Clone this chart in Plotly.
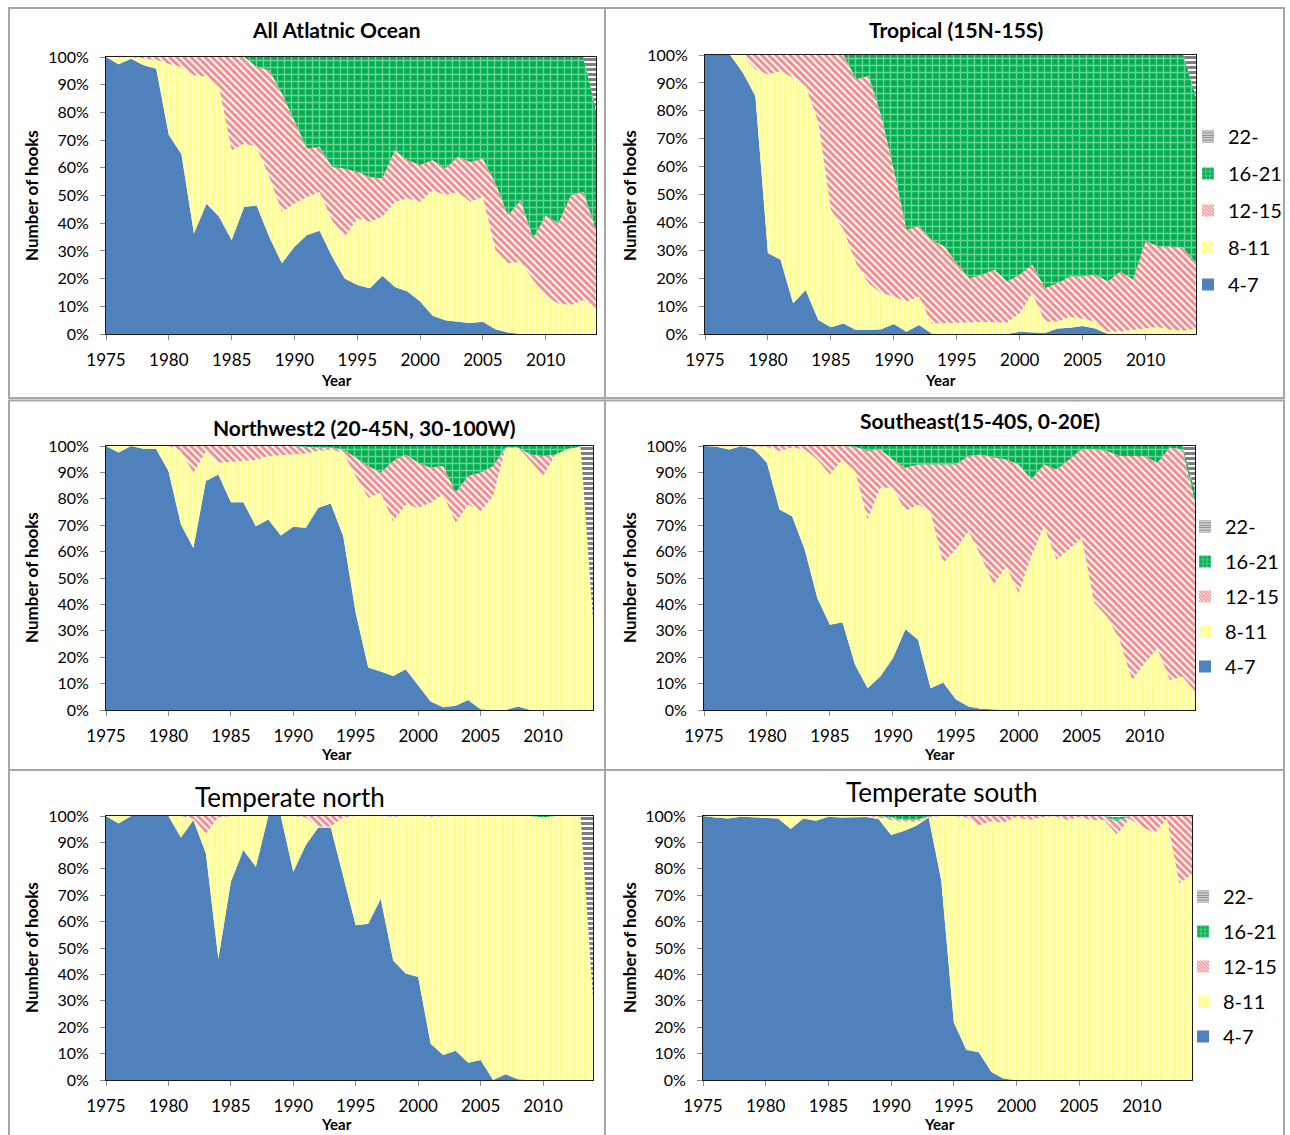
import plotly.graph_objects as go

W, H = 1290, 1135
FONT = "Lato, 'Liberation Sans', Arial, sans-serif"

YEARS = list(range(1975, 2015))
TICK_YEARS = [1975, 1980, 1985, 1990, 1995, 2000, 2005, 2010]
HOOK_CLASSES = ["4-7", "8-11", "12-15", "16-21", "22-"]

# ---- All Atlantic Ocean: share of sets (%) by number of hooks between floats
ALL_4_7 = [100, 97.4, 99.4, 97, 95.8, 71.8, 65, 36.3, 47, 42.3,
           33.9, 45.9, 46.3, 35, 25.5, 31.5, 35.7, 37.3, 27.9, 20,
           17.7, 16.5, 21, 17, 15.3, 11.7, 6.6, 5, 4.4, 4,
           4.4, 1.7, 0.5, 0, 0, 0, 0, 0, 0, 0]
ALL_8_11 = [0, 2.6, 0.6, 2.5, 3.2, 25.7, 31.4, 57.1, 46, 46.9,
            32.4, 22.9, 21.2, 21.7, 18.6, 15.6, 13.8, 14, 13.1, 15,
            24, 24, 21.3, 30.7, 33.6, 36, 45.3, 45.1, 46.9, 43.7,
            45.1, 28.6, 25, 26, 19.5, 13.5, 11, 10.5, 12.3, 9.3]
ALL_12_15 = [0, 0, 0, 0.5, 1, 2.5, 3.6, 6.6, 7, 10.8,
             33.7, 31.2, 28.9, 38.5, 42.7, 30.1, 17.5, 16.2, 19.3, 24.7,
             16.8, 16.2, 13.8, 18.6, 13.8, 13.3, 10.8, 9.6, 12.6, 14.4,
             13.8, 24, 17.4, 22.3, 15, 29.4, 28.9, 39.6, 39, 28.2]
ALL_16_21 = [0, 0, 0, 0, 0, 0, 0, 0, 0, 0,
             0, 0, 3.6, 4.8, 13.2, 22.8, 33, 32.5, 39.7, 40.3,
             41.5, 43.3, 43.9, 33.7, 37.3, 39, 37.3, 40.3, 36.1, 37.9,
             36.7, 45.7, 57.1, 51.7, 65.5, 57.1, 60.1, 49.9, 48.7, 43.5]
ALL_22 = [0, 0, 0, 0, 0, 0, 0, 0, 0, 0,
          0, 0, 0, 0, 0, 0, 0, 0, 0, 0,
          0, 0, 0, 0, 0, 0, 0, 0, 0, 0,
          0, 0, 0, 0, 0, 0, 0, 0, 0, 19]

# ---- Tropical (15N-15S)
TRO_4_7 = [100, 100, 100, 93.7, 85.3, 29, 26.6, 11, 15.8, 5,
           2.4, 3.8, 1.4, 1.4, 1.7, 3.6, 0.8, 3.2, 0.2, 0,
           0, 0, 0, 0, 0, 0.8, 0.5, 0.4, 2, 2.2,
           2.9, 2, 0, 0, 0, 0, 0, 0, 0, 0]
TRO_8_11 = [0, 0, 0, 6.3, 9.6, 64, 67.7, 80.9, 73.1, 70.7,
            42.2, 33.6, 24, 16.8, 12.9, 9.8, 10.8, 10.2, 3.6, 4,
            4, 4.1, 4.3, 4.2, 4.1, 6.6, 14.1, 4, 2.5, 4,
            2.6, 2.4, 0.8, 1, 1.5, 2.2, 2.5, 1.5, 1.2, 2]
TRO_12_15 = [0, 0, 0, 0, 5.1, 7, 5.7, 8.1, 11.1, 24.3,
             55.4, 62.6, 65.9, 74.3, 63.5, 45.5, 25.8, 25.2, 30, 27.4,
             21.4, 15.9, 16.9, 18.8, 14.7, 13.8, 10.2, 12, 13.7, 14.4,
             15.1, 16.8, 18, 21.4, 17.9, 31, 28.9, 29.9, 29.6, 23.4]
TRO_16_21 = [0, 0, 0, 0, 0, 0, 0, 0, 0, 0,
             0, 0, 8.7, 7.5, 21.9, 41.1, 62.6, 61.4, 66.2, 68.6,
             74.6, 80, 78.8, 77, 81.2, 78.8, 75.2, 83.6, 81.8, 79.4,
             79.4, 78.8, 81.2, 77.6, 80.6, 66.8, 68.6, 68.6, 69.2, 59.6]
TRO_22 = [0, 0, 0, 0, 0, 0, 0, 0, 0, 0,
          0, 0, 0, 0, 0, 0, 0, 0, 0, 0,
          0, 0, 0, 0, 0, 0, 0, 0, 0, 0,
          0, 0, 0, 0, 0, 0, 0, 0, 0, 15]

# ---- Northwest2 (20-45N, 30-100W)
NW_4_7 = [100, 97.5, 100, 99, 99, 90.5, 70.3, 61.4, 86.7, 89.2,
          78.7, 78.7, 69.6, 72.2, 66.1, 69.4, 69, 76.6, 78.2, 65.8,
          36.7, 16.1, 14.6, 12.9, 15.4, 9.5, 3.2, 1, 1.6, 3.8,
          0.3, 0, 0, 1.3, 0, 0, 0, 0, 0, 0]
NW_8_11 = [0, 2.5, 0, 1, 1, 9.5, 27.8, 28.5, 11.4, 4.5,
           15.2, 15.6, 25.1, 24, 30.4, 27.6, 28.2, 21.5, 20.5, 31.7,
           51.9, 64.3, 67.7, 58.6, 62.4, 67.1, 75.3, 80.6, 69.3, 74,
           75, 81, 99.4, 98.1, 94.3, 88.6, 96.8, 99, 99.7, 34.2]
NW_12_15 = [0, 0, 0, 0, 0, 0, 1.9, 10.1, 1.9, 6.3,
            6.1, 5.7, 5.3, 3.8, 3.5, 3, 2.5, 1.3, 0.7, 1.2,
            7, 12, 7.6, 22.8, 19, 17.1, 13.3, 10.8, 11.4, 10.8,
            14.6, 11.4, 0, 0, 2.5, 7.6, 0, 0, 0, 0]
NW_16_21 = [0, 0, 0, 0, 0, 0, 0, 0, 0, 0,
            0, 0, 0, 0, 0, 0, 0.3, 0.6, 0.6, 1.3,
            4.4, 7.6, 10.1, 5.7, 3.2, 6.3, 8.2, 7.6, 17.7, 11.4,
            10.1, 7.6, 0.6, 0.6, 3.2, 3.8, 3.2, 1, 0.3, 0]
NW_22 = [0, 0, 0, 0, 0, 0, 0, 0, 0, 0,
         0, 0, 0, 0, 0, 0, 0, 0, 0, 0,
         0, 0, 0, 0, 0, 0, 0, 0, 0, 0,
         0, 0, 0, 0, 0, 0, 0, 0, 0, 65.8]

# ---- Southeast (15-40S, 0-20E)
SE_4_7 = [100, 99.7, 98.7, 100, 98.7, 93.7, 75.9, 73.4, 60.8, 42.4,
          32.3, 33.2, 17.1, 8.2, 12.7, 19.6, 30.6, 26.6, 8.2, 10.4,
          4.1, 1.3, 0.5, 0.2, 0, 0, 0, 0, 0, 0,
          0, 0, 0, 0, 0, 0, 0, 0, 0, 0]
SE_8_11 = [0, 0.3, 1.3, 0, 1.1, 6, 22.2, 26, 37.9, 52.5,
           56.9, 61.7, 73.4, 64, 71.5, 64.6, 44.7, 51.2, 66.5, 45.3,
           56.7, 66.4, 57.7, 47.3, 54.4, 44.3, 58.2, 69.6, 57, 60.8,
           65.2, 40.5, 35.4, 26.6, 11.4, 17.7, 23.4, 11.4, 12.7, 7]
SE_12_15 = [0, 0, 0, 0, 0.2, 0.3, 1.9, 0.6, 1.3, 5.1,
            10.8, 5.1, 9.2, 25.9, 14.5, 10.7, 16.5, 15.2, 18.3, 37.3,
            32.2, 28.5, 38.6, 48.1, 40.5, 48.7, 29.1, 23.4, 34.1, 34.1,
            33.5, 58.2, 62.7, 69.6, 84.8, 78.5, 70.3, 88, 86, 72]
SE_16_21 = [0, 0, 0, 0, 0, 0, 0, 0, 0, 0,
            0, 0, 0.3, 1.9, 1.3, 5.1, 8.2, 7, 7, 7,
            7, 3.8, 3.2, 4.4, 5.1, 7, 12.7, 7, 8.9, 5.1,
            1.3, 1.3, 1.9, 3.8, 3.8, 3.8, 6.3, 0.6, 1.3, 4]
SE_22 = [0, 0, 0, 0, 0, 0, 0, 0, 0, 0,
         0, 0, 0, 0, 0, 0, 0, 0, 0, 0,
         0, 0, 0, 0, 0, 0, 0, 0, 0, 0,
         0, 0, 0, 0, 0, 0, 0, 0, 0, 17]

# ---- Temperate north
TN_4_7 = [100, 97.2, 100, 100, 100, 100, 91.9, 98.5, 85.8, 45.9,
          75.1, 87.1, 80.8, 100, 100, 78.9, 89, 95.6, 95.6, 77.6,
          58.6, 59.2, 68.7, 45.3, 40.3, 39, 13.7, 9.5, 11.1, 6.5,
          7.6, 0, 2.2, 0.3, 0, 0, 0, 0, 0, 0]
TN_8_11 = [0, 2.8, 0, 0, 0, 0, 8.1, 0.5, 7.6, 53.6,
           24.9, 12.9, 19.2, 0, 0, 21.1, 10.5, 0.4, 0.4, 21.9,
           41.4, 40.8, 31.3, 54.4, 59.7, 61, 86, 90.5, 88.9, 93.5,
           92.4, 100, 97.8, 99.7, 100, 99.5, 100, 100, 100, 31]
TN_12_15 = [0, 0, 0, 0, 0, 0, 0, 1, 6.6, 0.5,
            0, 0, 0, 0, 0, 0, 0.5, 4, 4, 0.5,
            0, 0, 0, 0.3, 0, 0, 0.3, 0, 0, 0,
            0, 0, 0, 0, 0, 0, 0, 0, 0, 0]
TN_16_21 = [0, 0, 0, 0, 0, 0, 0, 0, 0, 0,
            0, 0, 0, 0, 0, 0, 0, 0, 0, 0,
            0, 0, 0, 0, 0, 0, 0, 0, 0, 0,
            0, 0, 0, 0, 0, 0.5, 0, 0, 0, 0]
TN_22 = [0, 0, 0, 0, 0, 0, 0, 0, 0, 0,
         0, 0, 0, 0, 0, 0, 0, 0, 0, 0,
         0, 0, 0, 0, 0, 0, 0, 0, 0, 0,
         0, 0, 0, 0, 0, 0, 0, 0, 0, 69]

# ---- Temperate south
TS_4_7 = [100, 99.4, 99.1, 99.7, 99.5, 99.4, 99.1, 95.1, 99.1, 98.2,
          99.7, 99.4, 99.6, 99.6, 98.9, 92.8, 94.3, 96.3, 99.4, 75.7,
          21.9, 11.5, 10.5, 3, 0.5, 0, 0, 0, 0, 0,
          0, 0, 0, 0, 0, 0, 0, 0, 0, 0]
TS_8_11 = [0, 0.6, 0.9, 0.3, 0.5, 0.6, 0.9, 4.9, 0.9, 1.8,
           0.3, 0.6, 0.4, 0.4, 0.6, 5.7, 3.7, 1.5, 0.1, 24.3,
           78.1, 88, 86, 95, 97, 99.5, 98.5, 99.5, 100, 98.5,
           99.5, 98.5, 98.5, 93, 99, 96, 93.5, 99, 74.5, 78]
TS_12_15 = [0, 0, 0, 0, 0, 0, 0, 0, 0, 0,
            0, 0, 0, 0, 0.5, 1, 0.5, 0.7, 0.5, 0,
            0, 0.5, 3.5, 2, 2.5, 0.5, 1.5, 0.5, 0, 1.5,
            0.5, 1.5, 1.5, 5, 1, 4, 6.5, 1, 25.5, 22]
TS_16_21 = [0, 0, 0, 0, 0, 0, 0, 0, 0, 0,
            0, 0, 0, 0, 0, 0.5, 1.5, 1.5, 0, 0,
            0, 0, 0, 0, 0, 0, 0, 0, 0, 0,
            0, 0, 0, 1.5, 0, 0, 0, 0, 0, 0]
TS_22 = [0, 0, 0, 0, 0, 0, 0, 0, 0, 0,
         0, 0, 0, 0, 0, 0, 0, 0, 0, 0,
         0, 0, 0, 0, 0, 0, 0, 0, 0, 0,
         0, 0, 0, 0.5, 0, 0, 0, 0, 0, 0]

PANEL_TITLES = ["<b>All Atlatnic Ocean</b>", "<b>Tropical (15N-15S)</b>",
                "<b>Northwest2 (20-45N, 30-100W)</b>", "<b>Southeast(15-40S, 0-20E)</b>",
                "Temperate north", "Temperate south"]

PANEL_DATA = [
    [ALL_4_7, ALL_8_11, ALL_12_15, ALL_16_21, ALL_22],
    [TRO_4_7, TRO_8_11, TRO_12_15, TRO_16_21, TRO_22],
    [NW_4_7, NW_8_11, NW_12_15, NW_16_21, NW_22],
    [SE_4_7, SE_8_11, SE_12_15, SE_16_21, SE_22],
    [TN_4_7, TN_8_11, TN_12_15, TN_16_21, TN_22],
    [TS_4_7, TS_8_11, TS_12_15, TS_16_21, TS_22],
]

# fill styles per hook class (solid blue, then hatched patterns)
STYLES = {
    "4-7": dict(fillcolor="#4F81BD", pattern=None),
    "8-11": dict(fillcolor="#FFFF66",
                 pattern=dict(shape="|", fgcolor="#FFFF00", bgcolor="#FFFFFF", size=3, solidity=0.7)),
    "12-15": dict(fillcolor="#F08080",
                  pattern=dict(shape="\\", fgcolor="#E31A1C", bgcolor="#FFFFFF", size=5, solidity=0.6)),
    "16-21": dict(fillcolor="#33B86A",
                  pattern=dict(shape="+", fgcolor="#D8F5E0", bgcolor="#00B050", size=7, solidity=0.35)),
    "22-": dict(fillcolor="#555555",
                pattern=dict(shape="-", fgcolor="#000000", bgcolor="#FFFFFF", size=5, solidity=0.6)),
}

# plot-area rectangles in pixels: (left, right, top, bottom)
PLOT_BOXES = [
    (106, 596, 57, 334),
    (705, 1196, 55, 334),
    (106, 593, 446, 710),
    (704, 1195, 446, 710),
    (106, 593, 816, 1080),
    (703, 1192, 816, 1080),
]
TITLE_POS = [(337, 30, 21), (956, 30, 21), (364, 427, 21), (980, 421, 21), (290, 797, 26), (942, 792, 26)]
YTITLE_POS = [(31, 196), (629, 196), (31, 578), (629, 578), (31, 948), (629, 948)]
XTITLE_POS = [(337, 380), (940, 380), (337, 754), (939, 754), (337, 1124), (939, 1124)]
# legend anchor (left, top) in pixels and gap between entries
LEGEND_POS = {1: (1188, 117, 8), 3: (1185, 507, 6), 5: (1183, 877, 6)}
# panel frames: (left, right, top, bottom)
FRAMES = [(9, 605, 8, 398), (605, 1284, 8, 398), (9, 605, 400.5, 770),
          (605, 1284, 400.5, 770), (9, 605, 770, 1145), (605, 1284, 770, 1145)]


def px_x(v):
    return v / W


def px_y(v):
    return 1 - v / H


fig = go.Figure()
layout = dict(width=W, height=H, margin=dict(l=0, r=0, t=0, b=0, autoexpand=False),
              paper_bgcolor="white", plot_bgcolor="white",
              font=dict(family=FONT, size=16, color="#000000"),
              showlegend=True, annotations=[], shapes=[])

legend_names = {1: "legend", 3: "legend2", 5: "legend3"}

for p, series in enumerate(PANEL_DATA):
    ax = "" if p == 0 else str(p + 1)
    xref, yref = "x" + ax, "y" + ax
    for name, vals in zip(HOOK_CLASSES, series):
        st = STYLES[name]
        tr = dict(x=YEARS, y=vals, name=name, xaxis=xref, yaxis=yref,
                  stackgroup="g%d" % p, groupnorm="percent", mode="lines",
                  line=dict(width=0, color=st["fillcolor"]),
                  fillcolor=st["fillcolor"], showlegend=False, hoverinfo="skip")
        if st["pattern"] is not None:
            tr["fillpattern"] = st["pattern"]
        fig.add_trace(go.Scatter(**tr))

    # legend swatches for the right-hand panels (22- listed first)
    if p in legend_names:
        for name in reversed(HOOK_CLASSES):
            st = STYLES[name]
            marker = dict(color=st["fillcolor"] if st["pattern"] is None else st["pattern"]["bgcolor"],
                          line=dict(width=0))
            if st["pattern"] is not None:
                pat = dict(st["pattern"])
                pat["size"] = max(3, pat["size"] - 2)
                marker["pattern"] = pat
            fig.add_trace(go.Bar(x=[None], y=[None], name=name, xaxis=xref, yaxis=yref,
                                 marker=marker, legend=legend_names[p],
                                 legendgroup="%s-%d" % (name, p), showlegend=True,
                                 hoverinfo="skip"))

    l, r, t, b = PLOT_BOXES[p]
    layout["xaxis" + ax] = dict(domain=[px_x(l), px_x(r)], anchor=yref, range=[1975, 2014],
                                tickmode="array", tickvals=TICK_YEARS, ticks="outside",
                                ticklen=5, tickcolor="#8C8C8C", showline=True, linecolor="#1A1A1A",
                                linewidth=1, mirror=True, showgrid=False, zeroline=False,
                                tickfont=dict(size=17), ticklabelstandoff=6, fixedrange=True)
    layout["yaxis" + ax] = dict(domain=[px_y(b), px_y(t)], anchor=xref, range=[0, 100],
                                tickmode="linear", tick0=0, dtick=10, ticksuffix="%",
                                ticks="outside", ticklen=5, tickcolor="#8C8C8C", showline=True,
                                linecolor="#1A1A1A", linewidth=1, mirror=True, showgrid=False,
                                zeroline=False, tickfont=dict(size=16), ticklabelstandoff=8,
                                fixedrange=True)

    tx, ty, ts = TITLE_POS[p]
    layout["annotations"].append(dict(text=PANEL_TITLES[p], x=px_x(tx), y=px_y(ty), xref="paper",
                                      yref="paper", showarrow=False, xanchor="center",
                                      yanchor="middle", font=dict(size=ts)))
    yx, yy = YTITLE_POS[p]
    layout["annotations"].append(dict(text="<b>Number of hooks</b>", x=px_x(yx), y=px_y(yy),
                                      xref="paper", yref="paper", showarrow=False, textangle=-90,
                                      xanchor="center", yanchor="middle", font=dict(size=17)))
    xx, xy = XTITLE_POS[p]
    layout["annotations"].append(dict(text="<b>Year</b>", x=px_x(xx), y=px_y(xy), xref="paper",
                                      yref="paper", showarrow=False, xanchor="center",
                                      yanchor="middle", font=dict(size=15)))

for fl, fr, ft, fb in FRAMES:
    layout["shapes"].append(dict(type="rect", xref="paper", yref="paper", x0=px_x(fl), x1=px_x(fr),
                                 y0=px_y(fb), y1=px_y(ft), line=dict(color="#A6A6A6", width=2),
                                 fillcolor="rgba(0,0,0,0)", layer="above"))

for p, lname in legend_names.items():
    lx, ly, gap = LEGEND_POS[p]
    layout[lname] = dict(x=px_x(lx), y=px_y(ly), xanchor="left", yanchor="top",
                         xref="paper", yref="paper", bgcolor="rgba(0,0,0,0)",
                         font=dict(size=20, color="#000000"), traceorder="grouped",
                         tracegroupgap=gap, itemwidth=30)

fig.update_layout(**layout)
fig.write_html("out.html")
